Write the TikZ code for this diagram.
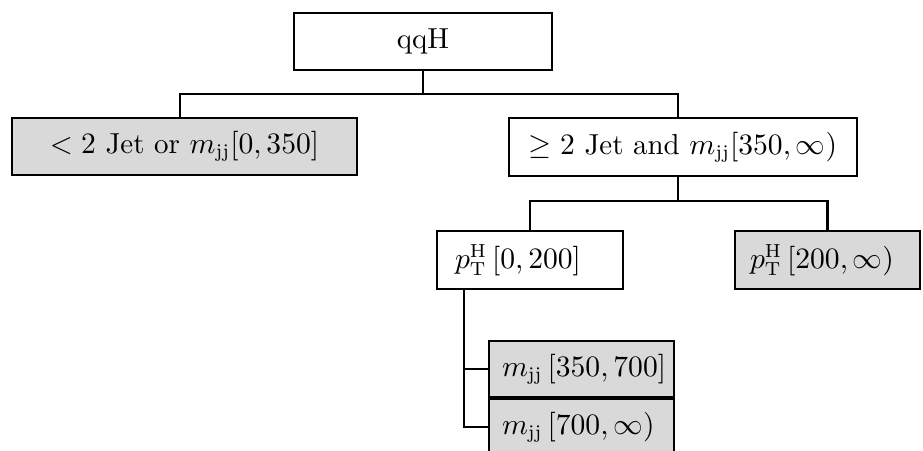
\documentclass[tikz,border=0pt]{standalone}
\definecolor{boxgray}{RGB}{217,217,217}
\begin{document}
\begin{tikzpicture}[x=0.37pt,y=-0.37pt,
  box/.style={draw, line width=0.8pt, minimum height=21.3pt, inner sep=0pt, font=\fontsize{10.7}{12.8}\selectfont},
  shaded/.style={fill=boxgray},
  conn/.style={line width=0.75pt}]
\clip (0,0) rectangle (923,451);
\node[box, minimum width=95.46pt] (qqH) at (423,41.5) {qqH};
\node[box, shaded, minimum width=127.65pt] (L) at (184.5,146.5) {$<2$ Jet or $m_{\mathrm{jj}}[0,350]$};
\node[box, minimum width=128.76pt] (R) at (683,147) {$\geq 2$ Jet and $m_{\mathrm{jj}}[350,\infty)$};
\node[box, minimum width=68.82pt, minimum height=21.5pt, align=left, inner xsep=6.66pt, text width=55.5pt] (P1) at (530,260) {$p_{\mathrm{T}}^{\mathrm{H}}\,[0,200]$};
\node[box, shaded, minimum width=68.45pt, minimum height=21.5pt, align=left, inner xsep=5.55pt, text width=57.35pt] (P2) at (827.5,260) {$p_{\mathrm{T}}^{\mathrm{H}}\,[200,\infty)$};
\node[box, shaded, minimum width=68.45pt, minimum height=20.72pt, align=left, inner xsep=4.81pt, text width=58.83pt] (M1) at (581.5,369) {$m_{\mathrm{jj}}\,[350,700]$};
\node[box, shaded, minimum width=68.45pt, minimum height=20.72pt, align=left, inner xsep=4.81pt, text width=58.83pt, anchor=north] (M2) at (M1.south) {$m_{\mathrm{jj}}\,[700,\infty)$};
\coordinate (Lin) at ([xshift=-1.67pt]L.north);
\coordinate (Rin) at ([xshift=-1.85pt]R.north);
\coordinate (Rout) at ([xshift=-1.85pt]R.south);
\draw[conn] (qqH.south) -- (qqH.south |- 0,94) -| (Lin);
\draw[conn] (qqH.south) -- (qqH.south |- 0,94) -| (Rin);
\draw[conn] (Rout) -- (Rout |- 0,201) -| (P1.north);
\draw[conn] (Rout) -- (Rout |- 0,201) -| (P2.north);
\draw[conn] ([xshift=10.36pt]P1.south west) |- (M1.west);
\draw[conn] ([xshift=10.36pt]P1.south west) |- (M2.west);
\end{tikzpicture}
\end{document}
